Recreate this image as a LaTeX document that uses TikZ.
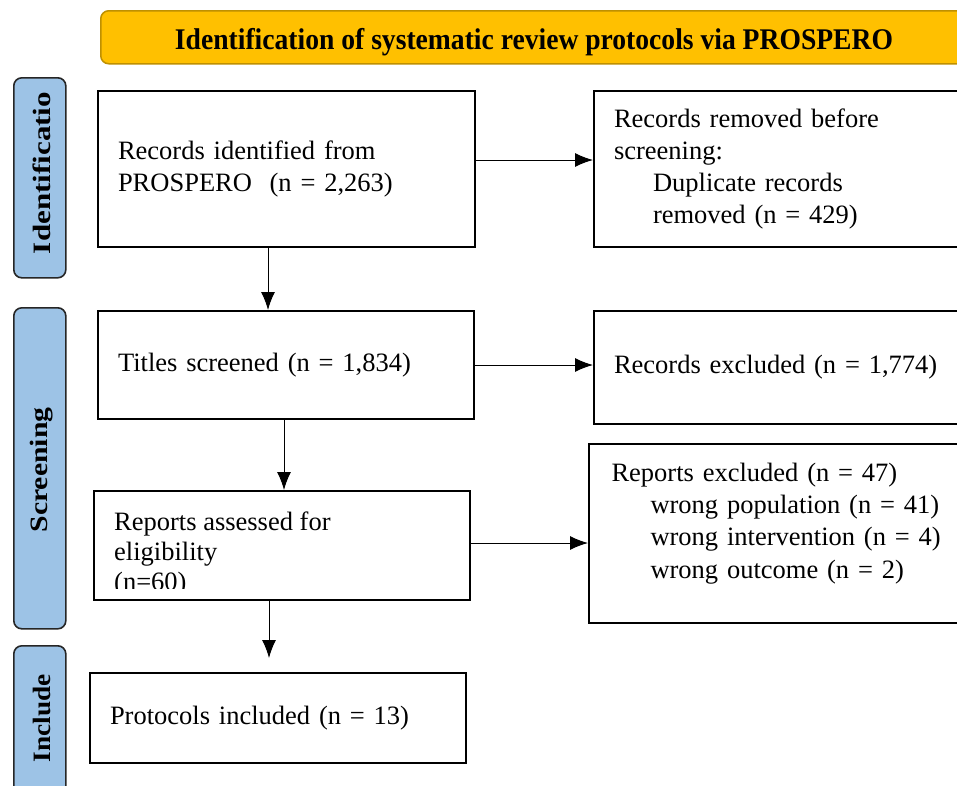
\documentclass[tikz,border=0pt]{standalone}
\usepackage{fontspec}
\setmainfont{Liberation Serif}
\usetikzlibrary{arrows.meta}
\definecolor{hdrfill}{HTML}{FFC000}
\definecolor{hdrline}{HTML}{BF9000}
\definecolor{sidefill}{HTML}{9DC3E6}
\tikzset{
  box/.style={draw=black, line width=2pt, fill=white, anchor=north west, align=left,
    inner xsep=20pt, font=\fontsize{26.5}{32}\selectfont},
  side/.style={draw=black!85, line width=1.6pt, fill=sidefill, rounded corners=8pt, anchor=north west},
  sidetext/.style={rotate=90, inner sep=0pt},
  conn/.style={line width=1pt, -{Latex[length=18pt,width=14pt]}},
}
\newcommand{\ind}{\hspace*{39pt}}
\begin{document}
\begin{tikzpicture}[x=1pt,y=-1pt]
\useasboundingbox (0,0) rectangle (957,785);
\clip (0,0) rectangle (957,785);
\fill[white] (0,0) rectangle (957,785);
% header
\node[draw=hdrline, line width=1.5pt, fill=hdrfill, rounded corners=8pt, anchor=north west,
  minimum width=868pt, minimum height=53pt, inner sep=0pt] (hdr) at (100,10) {};
\node[inner sep=0pt] (hdrt) at (534,42)
  {\resizebox{718pt}{\height}{\fontsize{30}{32}\selectfont\bfseries Identification of systematic review protocols via PROSPERO}};
% side labels
\node[side, minimum width=52pt, minimum height=200pt] (sid) at (13,77) {};
\node[sidetext] (sidt) at (42,173) {\resizebox{162pt}{\height}{\fontsize{25}{28}\selectfont\bfseries Identificatio}};
\node[side, minimum width=52pt, minimum height=321pt] (ssc) at (13,307) {};
\node[sidetext] (ssct) at (42,470) {\resizebox{125pt}{\height}{\fontsize{25}{28}\selectfont\bfseries Screening}};
\node[side, minimum width=52pt, minimum height=160pt] (sin) at (13,645) {};
\node[sidetext] (sint) at (42,718) {\resizebox{88pt}{\height}{\fontsize{25}{28}\selectfont\bfseries Include}};
% boxes
\node[box, minimum width=377pt, minimum height=156pt, text width=337pt] (b1) at (97,90)
  {Records identified from\\PROSPERO\ \ (n = 2,263)};
\node[box, minimum width=380pt, minimum height=156pt, text width=340pt] (b2) at (593,90)
  {Records removed before\\screening:\\\ind Duplicate records\\\ind removed (n = 429)};
\node[box, minimum width=376pt, minimum height=108pt, text width=336pt] (b3) at (97,310)
  {Titles screened (n = 1,834)};
\node[box, minimum width=380pt, minimum height=113pt, text width=340pt] (b4) at (593,310)
  {Records excluded (n = 1,774)};
\node[box, minimum width=376pt, minimum height=109pt] (b5) at (93,490) {};
\begin{scope}
  \clip (93,490) rectangle (469,588);
  \node[anchor=north west, align=left, inner sep=0pt, font=\fontsize{26.5}{30}\selectfont] (b5t) at (114,512)
    {Reports assessed for\\eligibility\\(n=60)};
\end{scope}
\node[box, minimum width=385pt, minimum height=179pt, text width=340pt, inner xsep=21pt,
  font=\fontsize{26.5}{32.3}\selectfont] (b6) at (588,443)
  {Reports excluded (n = 47)\\\ind wrong population (n = 41)\\\ind wrong intervention (n = 4)\\\ind wrong outcome (n = 2)\\[-6pt]\mbox{}};
\node[box, minimum width=376pt, minimum height=90pt, text width=336pt] (b7) at (89,672)
  {Protocols included (n = 13)};
% connectors
\coordinate (a1) at (b1.south west -| 268,0);
\coordinate (a3) at (b3.south west -| 284,0);
\coordinate (a5) at (b5.south west -| 269,0);
\draw[conn] (b1.east |- 0,160) -- (b2.west |- 0,160);
\draw[conn] (a1) -- (a1 |- b3.north);
\draw[conn] (b3.east |- 0,365) -- (b4.west |- 0,365);
\draw[conn] (a3) -- (a3 |- b5.north);
\draw[conn] (b5.east |- 0,543) -- (b6.west |- 0,543);
\draw[conn] (a5) -- (a5 |- 0,658);
\end{tikzpicture}
\end{document}
